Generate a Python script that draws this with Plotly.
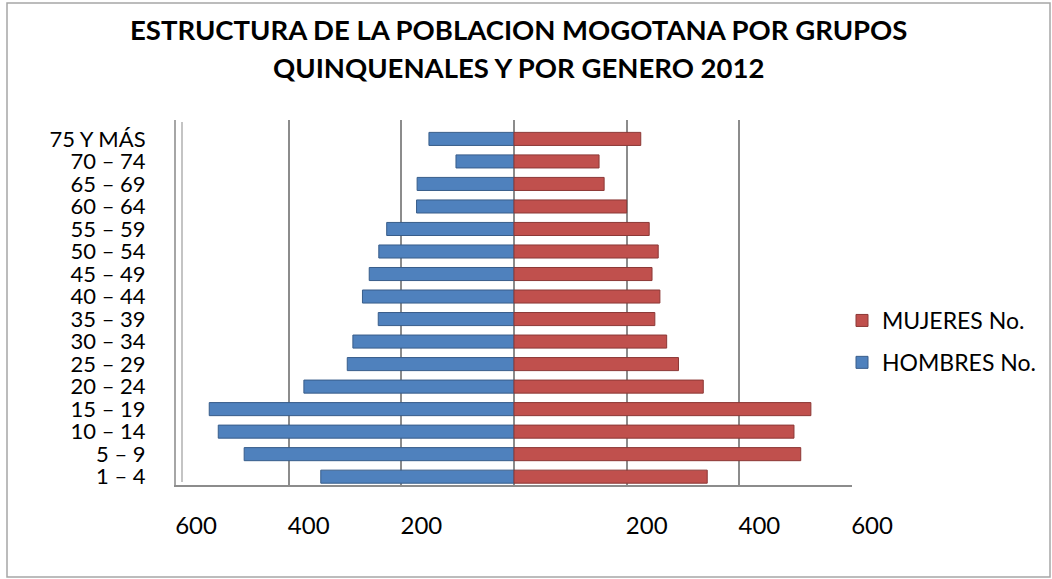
import plotly.graph_objects as go

grupos = ["1 – 4", "5 – 9", "10 – 14", "15 – 19", "20 – 24", "25 – 29", "30 – 34",
          "35 – 39", "40 – 44", "45 – 49", "50 – 54", "55 – 59", "60 – 64",
          "65 – 69", "70 – 74", "75 Y MÁS"]
hombres = [343, 479, 525, 541, 373, 296, 286, 241, 269, 257, 240, 226, 173, 172, 103, 151]
mujeres = [343, 509, 497, 527, 336, 292, 271, 250, 259, 245, 256, 240, 200, 160, 151, 225]

tick_vals = [-600, -400, -200, 0, 200, 400, 600]
tick_text = ["600", "400", "200", "", "200", "400", "600"]
titulo = ["ESTRUCTURA DE LA POBLACION MOGOTANA POR GRUPOS",
          "QUINQUENALES Y POR GENERO 2012"]

FONT = "Lato"
W, H = 1052, 579
ML, MR, MT, MB = 176, 200, 120, 94
PW, PH = W - ML - MR, H - MT - MB


def px(x):
    return (x - ML) / PW


def py(y):
    return (MT + PH - y) / PH


fig = go.Figure()
fig.add_trace(go.Bar(
    y=grupos, x=[-v for v in hombres], orientation="h", name="HOMBRES No.",
    customdata=hombres, hovertemplate="%{y}: %{customdata}<extra>HOMBRES No.</extra>",
    marker=dict(color="#4F81BD", line=dict(color="#385D8A", width=1)),
    legendgroup="h", legendrank=2,
))
fig.add_trace(go.Bar(
    y=grupos, x=mujeres, orientation="h", name="MUJERES No.",
    hovertemplate="%{y}: %{x}<extra>MUJERES No.</extra>",
    marker=dict(color="#C0504D", line=dict(color="#8C3836", width=1)),
    legendgroup="m", legendrank=1,
))

# outer chart border
fig.add_shape(type="rect", xref="paper", yref="paper",
              x0=px(7), x1=px(1050), y0=py(577), y1=py(3),
              line=dict(color="#A6A6A6", width=1.5), fillcolor="rgba(0,0,0,0)", layer="below")
# 3D side wall (second line of the left wall)
fig.add_shape(type="line", xref="paper", yref="paper",
              x0=px(182), x1=px(182), y0=py(482), y1=py(122),
              line=dict(color="#B0B0B0", width=1.5), layer="below")

# title lines
for txt, yc in zip(titulo, [30, 68]):
    fig.add_annotation(
        text="<b>" + txt + "</b>", xref="paper", yref="paper",
        x=px(518), xanchor="center", y=py(yc), yanchor="middle", showarrow=False,
        font=dict(family=FONT, size=27.5, color="black"),
    )

fig.update_layout(
    width=W, height=H,
    margin=dict(l=ML, r=MR, t=MT, b=MB, autoexpand=False),
    paper_bgcolor="white", plot_bgcolor="white",
    barmode="overlay", bargap=0.42,
    font=dict(family=FONT, color="black"),
    legend=dict(x=px(842), xanchor="left", y=py(299), yanchor="top",
                traceorder="grouped", tracegroupgap=9,
                font=dict(family=FONT, size=23, color="black"),
                itemwidth=30, bgcolor="rgba(0,0,0,0)"),
    xaxis=dict(range=[-600, 600], tickvals=tick_vals, ticktext=tick_text,
               showgrid=True, gridcolor="#8C8C8C", gridwidth=2,
               zeroline=True, zerolinecolor="#8C8C8C", zerolinewidth=2,
               showline=True, linecolor="#8C8C8C", linewidth=2,
               ticks="", ticklabelshift=20, ticklabelstandoff=18,
               tickfont=dict(family=FONT, size=24, color="black"), fixedrange=True),
    yaxis=dict(range=[-0.37, 15.84], showgrid=False, zeroline=False,
               tickmode="array", tickvals=grupos, ticktext=grupos,
               showline=True, linecolor="#A6A6A6", linewidth=2,
               ticks="", ticklabelstandoff=24,
               tickfont=dict(family=FONT, size=22, color="black"), fixedrange=True),
)

fig.write_html("out.html", config={"displayModeBar": False},
               post_script="document.body.style.margin='0';document.body.style.padding='0';"
                           "document.documentElement.style.overflow='hidden';")
